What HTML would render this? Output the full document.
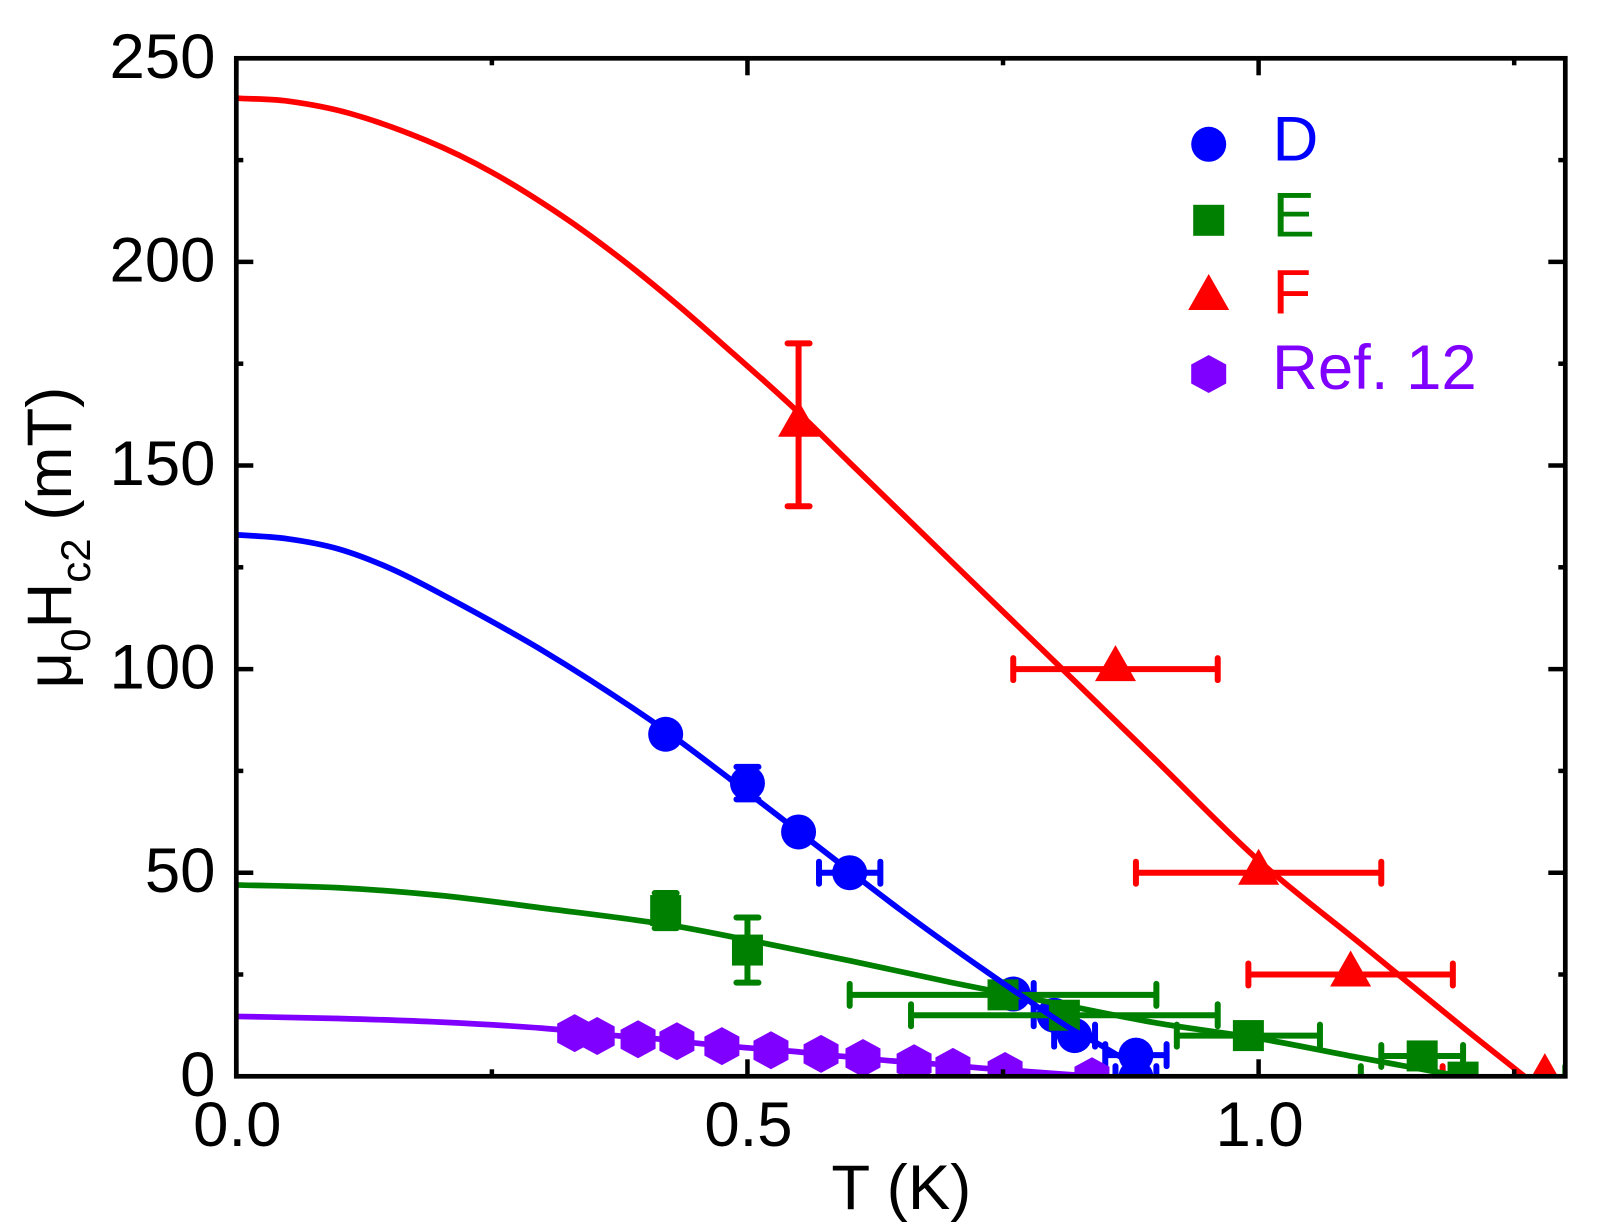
<!DOCTYPE html>
<html lang="en">
<head>
<meta charset="utf-8">
<title>Upper critical field vs temperature</title>
<style>
  html, body { margin: 0; padding: 0; background: #fff; }
  svg { display: block; font-family: "Liberation Sans", sans-serif; }
  text { font-size: 63.5px; }
</style>
</head>
<body>
<svg id="chart" xmlns="http://www.w3.org/2000/svg" width="1597" height="1231" viewBox="0 0 1597 1231">
  <rect x="0" y="0" width="1597" height="1231" fill="#fff"/>
  <defs>
    <clipPath id="plot-clip"><rect x="236.3" y="58.3" width="1329" height="1018"/></clipPath>
  </defs>
  <g id="plot" clip-path="url(#plot-clip)"></g>
  <g id="axes"></g>
  <text x="831.4" y="1209">T (K)</text>
  <text transform="translate(71 688.5) rotate(-90)" x="0" y="0">μ<tspan dy="19" style="font-size:42px">0</tspan><tspan dy="-19">H</tspan><tspan dy="19" style="font-size:42px">c2</tspan><tspan dy="-19"> (mT)</tspan></text>
  <g id="legend">
    <text x="1272.5" y="160.7" fill="#0000ff">D</text>
    <text x="1272.5" y="236.7" fill="#008000">E</text>
    <text x="1272.5" y="313.7" fill="#ff0000">F</text>
    <text x="1272" y="389" fill="#8000ff">Ref. 12</text>
  </g>
</svg>
<script>
// Axis tick labels
const xTickLabels = ['0.0', '0.5', '1.0'];
const yTickLabels = ['0', '50', '100', '150', '200', '250'];
const xMinorTicks = [0.25, 0.75, 1.25];
const yMinorTicks = [25, 75, 125, 175, 225];

// Sample D: T, field, T error, field error
const dT = [0.42, 0.5, 0.55, 0.6, 0.76, 0.8, 0.82, 0.88, 0.88];
const dH = [84, 72, 60, 50, 20.2, 15, 10, 5.2, -0.2];
const dTErr = [0, 0, 0, 0.03, 0.02, 0.02, 0.02, 0.03, 0.02];
const dHErr = [0, 4, 0, 0, 0, 0, 0, 0, 0];

// Sample E
const eT = [0.42, 0.5, 0.75, 0.81, 0.99, 1.16, 1.2];
const eH = [40.7, 31, 20, 15, 10, 5, -0.2];
const eTErr = [0, 0, 0.15, 0.15, 0.07, 0.04, 0.1];
const eHErr = [4.3, 8, 0, 0, 0, 0, 0];

// Sample F
const fT = [0.55, 0.86, 1.0, 1.09, 1.28];
const fH = [160, 100, 50, 25, -0.2];
const fTErr = [0, 0.1, 0.12, 0.1, 0.1];
const fHErr = [20, 0, 0, 0, 0];

// Ref. 12
const refT = [0.331, 0.353, 0.393, 0.431, 0.475, 0.523, 0.572, 0.613, 0.663, 0.701, 0.752, 0.837];
const refH = [10.6, 9.9, 9.1, 8.6, 7.4, 6.4, 5.5, 4.5, 3.2, 2.3, 1.3, 0];

// Fit curves
const dFitT = [0, 0.05, 0.1, 0.15, 0.2, 0.3, 0.405, 0.483, 0.564, 0.649, 0.727, 0.813, 0.845, 0.87];
const dFitH = [133, 132, 129.5, 124.8, 118.5, 104.5, 87.5, 73, 57.4, 41, 26.9, 12.2, 7.7, 4];
const eFitT = [0, 0.1, 0.2, 0.3, 0.42, 0.5, 0.6, 0.7, 0.8, 0.9, 1.0, 1.1, 1.18, 1.2];
const eFitH = [47, 46.3, 44.4, 41.3, 37.3, 33.5, 28.4, 23, 18, 13.1, 9.3, 4.5, 0.8, 0];
const fFitT = [0, 0.05, 0.112, 0.186, 0.25, 0.318, 0.374, 0.43, 0.486, 0.539, 0.6, 0.7, 0.808, 0.9, 1.0, 1.1, 1.2, 1.26];
const fFitH = [240.2, 239.5, 236.4, 229.8, 222, 211.4, 201.2, 189.8, 177.5, 165.6, 150.7, 126.3, 100, 77.5, 53, 32.5, 12, 0];
const refFitT = [0, 0.1, 0.2, 0.3, 0.375, 0.415, 0.455, 0.5, 0.55, 0.593, 0.64, 0.68, 0.73, 0.8, 0.837];
const refFitH = [14.7, 14.2, 13.3, 11.8, 9.9, 9.1, 8.0, 7, 6, 4.9, 3.8, 3.1, 2, 0.7, 0];

const NS = 'http://www.w3.org/2000/svg';
const LEFT = 236.3, RIGHT = 1565.3, TOP = 58.3, BOTTOM = 1076.3;
const X_MAX = 1.3, Y_MAX = 250;
const BLUE = '#0000ff', GREEN = '#008000', RED = '#ff0000', PURPLE = '#8000ff';

function xScale(t) { return LEFT + (t / X_MAX) * (RIGHT - LEFT); }
function yScale(h) { return BOTTOM - (h / Y_MAX) * (BOTTOM - TOP); }

function make(tag, attrs, parent) {
  const node = document.createElementNS(NS, tag);
  for (const k in attrs) node.setAttribute(k, attrs[k]);
  parent.appendChild(node);
  return node;
}

function hexPoints(cx, cy) {
  const a = 17.5, b = 19, c = 9.5;
  return [[cx, cy - b], [cx + a, cy - c], [cx + a, cy + c], [cx, cy + b], [cx - a, cy + c], [cx - a, cy - c]].join(' ');
}

function triPoints(cx, cy) {
  return [[cx, cy - 24], [cx + 20.5, cy + 12], [cx - 20.5, cy + 12]].join(' ');
}

function drawMarker(parent, shape, cx, cy, color, label) {
  let el;
  if (shape === 'circle') {
    el = make('circle', { cx: cx, cy: cy, r: 17.5, fill: color }, parent);
  } else if (shape === 'square') {
    el = make('rect', { x: cx - 15.5, y: cy - 15.5, width: 31, height: 31, fill: color }, parent);
  } else if (shape === 'triangle') {
    el = make('polygon', { points: triPoints(cx, cy), fill: color }, parent);
  } else {
    el = make('polygon', { points: hexPoints(cx, cy), fill: color }, parent);
  }
  
  
  return el;
}

function drawErrorBars(parent, t, h, terr, herr, color, label) {
  const cap = 11;
  const cx = xScale(t), cy = yScale(h);
  const g = make('g', { stroke: color, 'stroke-width': 6, 'stroke-linecap': 'butt', fill: 'none' }, parent);
  
  
  const seg = function (x1, y1, x2, y2, round) {
    const s = make('line', { x1: x1, y1: y1, x2: x2, y2: y2 }, g);
    if (round) s.setAttribute('stroke-linecap', 'round');
  };
  if (terr > 0) {
    const a = xScale(t - terr), b = xScale(t + terr);
    seg(a, cy, b, cy, false);
    seg(a, cy - cap, a, cy + cap, true);
    seg(b, cy - cap, b, cy + cap, true);
  }
  if (herr > 0) {
    const a = yScale(h - herr), b = yScale(h + herr);
    seg(cx, a, cx, b, false);
    seg(cx - cap, a, cx + cap, a, true);
    seg(cx - cap, b, cx + cap, b, true);
  }
}

function curvePath(ts, hs) {
  const n = ts.length;
  const xs = ts.map(xScale);
  const ys = hs.map(yScale);
  const slope = function (i) {
    const a = Math.max(i - 1, 0), b = Math.min(i + 1, n - 1);
    return (ys[b] - ys[a]) / (xs[b] - xs[a]);
  };
  let d = 'M' + xs[0] + ' ' + ys[0];
  for (let i = 0; i < n - 1; i++) {
    const dx = (xs[i + 1] - xs[i]) / 3;
    d += 'C' + (xs[i] + dx) + ' ' + (ys[i] + slope(i) * dx) + ' ' +
         (xs[i + 1] - dx) + ' ' + (ys[i + 1] - slope(i + 1) * dx) + ' ' +
         xs[i + 1] + ' ' + ys[i + 1];
  }
  return d;
}

function drawCurve(parent, ts, hs, color, label) {
  const el = make('path', { d: curvePath(ts, hs), fill: 'none', stroke: color, 'stroke-width': 5.7 }, parent);
  
  
}

const plot = document.getElementById('plot');
const axes = document.getElementById('axes');
const legend = document.getElementById('legend');

function drawSeries(ts, hs, terrs, herrs, shape, color, label) {
  ts.forEach(function (t, i) {
    if (terrs && (terrs[i] > 0 || herrs[i] > 0)) {
      drawErrorBars(plot, t, hs[i], terrs[i], herrs[i], color, label + '-error-bar-' + (i + 1));
    }
  });
  ts.forEach(function (t, i) {
    drawMarker(plot, shape, xScale(t), yScale(hs[i]), color, label + '-point-' + (i + 1));
  });
}

drawSeries(dT, dH, dTErr, dHErr, 'circle', BLUE, 'sample-d');
drawSeries(eT, eH, eTErr, eHErr, 'square', GREEN, 'sample-e');
drawSeries(fT, fH, fTErr, fHErr, 'triangle', RED, 'sample-f');
drawSeries(refT, refH, null, null, 'hexagon', PURPLE, 'ref-12');

drawCurve(plot, refFitT, refFitH, PURPLE, 'ref-12-fit-curve');
drawCurve(plot, eFitT, eFitH, GREEN, 'sample-e-fit-curve');
drawCurve(plot, dFitT, dFitH, BLUE, 'sample-d-fit-curve');
drawCurve(plot, fFitT, fFitH, RED, 'sample-f-fit-curve');

function tick(x1, y1, x2, y2, label) {
  const el = make('line', { x1: x1, y1: y1, x2: x2, y2: y2, stroke: '#000', 'stroke-width': 4.5 }, axes);
  
  
}

const MAJOR = 17, MINOR = 7;
xTickLabels.forEach(function (s) {
  const x = xScale(parseFloat(s));
  tick(x, BOTTOM, x, BOTTOM - MAJOR, 'x-major-tick-' + s);
  tick(x, TOP, x, TOP + MAJOR, 'x-top-major-tick-' + s);
  const t = make('text', { x: x + 1, y: 1146, 'text-anchor': 'middle' }, axes);
  t.textContent = s;
  
  
});
xMinorTicks.forEach(function (v) {
  const x = xScale(v);
  tick(x, BOTTOM, x, BOTTOM - MINOR, 'x-minor-tick-' + v);
  tick(x, TOP, x, TOP + MINOR, 'x-top-minor-tick-' + v);
});
yTickLabels.forEach(function (s) {
  const y = yScale(parseFloat(s));
  tick(LEFT, y, LEFT + MAJOR, y, 'y-major-tick-' + s);
  tick(RIGHT, y, RIGHT - MAJOR, y, 'y-right-major-tick-' + s);
  const t = make('text', { x: 215.5, y: y + 19.5, 'text-anchor': 'end' }, axes);
  t.textContent = s;
  
  
});
yMinorTicks.forEach(function (v) {
  const y = yScale(v);
  tick(LEFT, y, LEFT + MINOR, y, 'y-minor-tick-' + v);
  tick(RIGHT, y, RIGHT - MINOR, y, 'y-right-minor-tick-' + v);
});

const frame = make('rect', { x: LEFT, y: TOP, width: RIGHT - LEFT, height: BOTTOM - TOP, fill: 'none', stroke: '#000', 'stroke-width': 4.7 }, axes);



drawMarker(legend, 'circle', 1208.7, 144.3, BLUE, 'legend-marker-d');
drawMarker(legend, 'square', 1208.7, 220.3, GREEN, 'legend-marker-e');
drawMarker(legend, 'triangle', 1208.7, 298, RED, 'legend-marker-f');
drawMarker(legend, 'hexagon', 1208.7, 374, PURPLE, 'legend-marker-ref-12');
</script>
</body>
</html>
